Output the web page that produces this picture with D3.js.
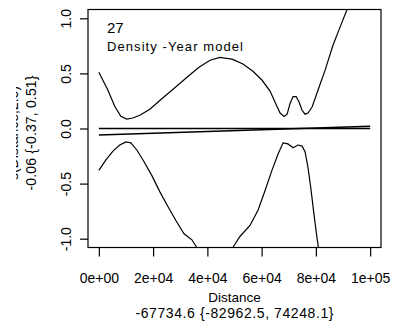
<!DOCTYPE html>
<html>
<head>
<meta charset="utf-8">
<script src="https://cdn.jsdelivr.net/npm/d3@7"></script>
<style>
  body { margin: 0; background: #fff; }
  text { font-family: "Liberation Sans", Arial, sans-serif; fill: #000; }
</style>
</head>
<body>
<svg id="chart"></svg>
<script>
const width = 397;
const height = 326;
const box = { left: 88, right: 381, top: 9.5, bottom: 247.5 };

// ticks
const xTicks = [0, 20000, 40000, 60000, 80000, 100000];
const xTickLabels = ['0e+00', '2e+04', '4e+04', '6e+04', '8e+04', '1e+05'];
const yTicks = [-1, -0.5, 0, 0.5, 1];
const yTickLabels = ['-1.0', '-0.5', '0.0', '0.5', '1.0'];

// fitted effect and its band
const estDist = [0, 100000];
const estVal = [-0.06, 0.02];
const zeroDist = [0, 100000];
const zeroVal = [0, 0];

const upperDist = [0, 3300, 5900, 8100, 10300, 12500, 15100, 18800, 23200, 28000,
  32500, 36900, 41000, 44600, 49100, 53100, 56800, 60100, 63100, 65300,
  66800, 68300, 69400, 70500, 71600, 72700, 73800, 74900, 76000, 77100,
  78600, 80800, 83400, 86300, 88900, 91500, 94500, 100000];
const upperVal = [0.51, 0.35, 0.20, 0.11, 0.085, 0.095, 0.12, 0.175, 0.27, 0.37,
  0.465, 0.555, 0.62, 0.645, 0.63, 0.585, 0.52, 0.44, 0.34, 0.22,
  0.14, 0.11, 0.13, 0.23, 0.29, 0.29, 0.24, 0.165, 0.13, 0.14,
  0.195, 0.35, 0.53, 0.755, 0.92, 1.08, 1.28, 1.66];

const lowerDist = [0, 2600, 5200, 7700, 10000, 11800, 14000, 16600, 19600, 22500,
  25500, 28400, 31400, 34300, 36100, 38000, 42800, 47000, 49400, 52000,
  55700, 58700, 61300, 63800, 66100, 67900, 69700, 71600, 73400, 74900,
  76000, 77100, 78200, 79300, 80400, 81500, 83400];
const lowerVal = [-0.38, -0.285, -0.205, -0.15, -0.122, -0.13, -0.195, -0.30, -0.43, -0.575,
  -0.71, -0.835, -0.955, -1.01, -1.08, -1.14, -1.24, -1.17, -1.08, -0.98,
  -0.88, -0.74, -0.56, -0.38, -0.23, -0.13, -0.14, -0.175, -0.15, -0.16,
  -0.21, -0.355, -0.555, -0.78, -0.99, -1.17, -1.46];

const panelNumber = '27';
const panelTitle = 'Density -Year model';
const xLabel = 'Distance';
const xSummary = '-67734.6 {-82962.5, 74248.1}';
const yLabel = 's(Distance,2.6)';
const ySummary = '-0.06 {-0.37, 0.51}';

const svg = d3.select('#chart').attr('width', width).attr('height', height);

const x = d3.scaleLinear().domain([-4000, 104000]).range([box.left, box.right]);
const y = d3.scaleLinear().domain([-1.08, 1.08]).range([box.bottom, box.top]);

const defs = svg.append('defs');
defs.append('clipPath').attr('id', 'plot-clip')
  .append('rect')
  .attr('x', box.left).attr('y', box.top)
  .attr('width', box.right - box.left).attr('height', box.bottom - box.top);
// the left edge of the original image is cropped
defs.append('clipPath').attr('id', 'crop-clip')
  .append('rect').attr('x', 16).attr('y', 0).attr('width', width).attr('height', height);

const toPoints = (xs, ys) => xs.map((d, i) => [d, ys[i]]);
const line = d3.line().x(d => x(d[0])).y(d => y(d[1]));

const plot = svg.append('g').attr('clip-path', 'url(#plot-clip)');
[
  { pts: toPoints(upperDist, upperVal), w: 1.2 },
  { pts: toPoints(lowerDist, lowerVal), w: 1.2 },
  { pts: toPoints(zeroDist, zeroVal), w: 1.3 },
  { pts: toPoints(estDist, estVal), w: 1.5 },
].forEach(s => {
  plot.append('path')
    .attr('d', line(s.pts))
    .attr('fill', 'none')
    .attr('stroke', '#000')
    .attr('stroke-width', s.w);
});

// box
svg.append('rect')
  .attr('x', box.left).attr('y', box.top)
  .attr('width', box.right - box.left).attr('height', box.bottom - box.top)
  .attr('fill', 'none').attr('stroke', '#000').attr('stroke-width', 1.2);

// x axis
const xAxis = svg.append('g')
  .attr('transform', `translate(0, ${box.bottom})`)
  .call(d3.axisBottom(x).tickValues(xTicks).tickFormat((d, i) => xTickLabels[i]).tickSize(9).tickSizeOuter(0));
xAxis.select('.domain').remove();
xAxis.selectAll('line').attr('stroke', '#000').attr('stroke-width', 1.2);
xAxis.selectAll('text')
  .attr('y', 35).attr('dy', null)
  .style('font-size', '14px')
  .style('font-family', '"Liberation Sans", Arial, sans-serif');

// y axis
const yAxis = svg.append('g')
  .attr('transform', `translate(${box.left}, 0)`)
  .call(d3.axisLeft(y).tickValues(yTicks).tickFormat((d, i) => yTickLabels[i]).tickSize(8).tickSizeOuter(0));
yAxis.select('.domain').remove();
yAxis.selectAll('line').attr('stroke', '#000').attr('stroke-width', 1.2);
yAxis.selectAll('text')
  .attr('transform', 'rotate(-90)')
  .attr('x', 0).attr('y', -22).attr('dy', '0.35em')
  .attr('text-anchor', 'middle')
  .style('font-size', '14px')
  .style('font-family', '"Liberation Sans", Arial, sans-serif');

// in-panel labels
svg.append('text').attr('x', 107).attr('y', 33).style('font-size', '15px').text(panelNumber);
svg.append('text').attr('x', 107).attr('y', 51).style('font-size', '13px')
  .attr('textLength', 136).attr('lengthAdjust', 'spacing').text(panelTitle);

// axis titles
const midX = (box.left + box.right) / 2;
svg.append('text').attr('x', midX).attr('y', 302)
  .attr('text-anchor', 'middle').style('font-size', '13.5px').text(xLabel);
svg.append('text').attr('x', midX).attr('y', 318)
  .attr('text-anchor', 'middle').style('font-size', '14px')
  .attr('textLength', 198).attr('lengthAdjust', 'spacing').text(xSummary);

const midY = 133;
svg.append('g').attr('clip-path', 'url(#crop-clip)')
  .append('text')
  .attr('transform', `translate(17.5, ${midY}) rotate(-90)`)
  .attr('text-anchor', 'middle').style('font-size', '14px').text(yLabel);
svg.append('text')
  .attr('transform', `translate(36, ${midY}) rotate(-90)`)
  .attr('text-anchor', 'middle').style('font-size', '14px')
  .attr('textLength', 115).attr('lengthAdjust', 'spacing').text(ySummary);
</script>
</body>
</html>
